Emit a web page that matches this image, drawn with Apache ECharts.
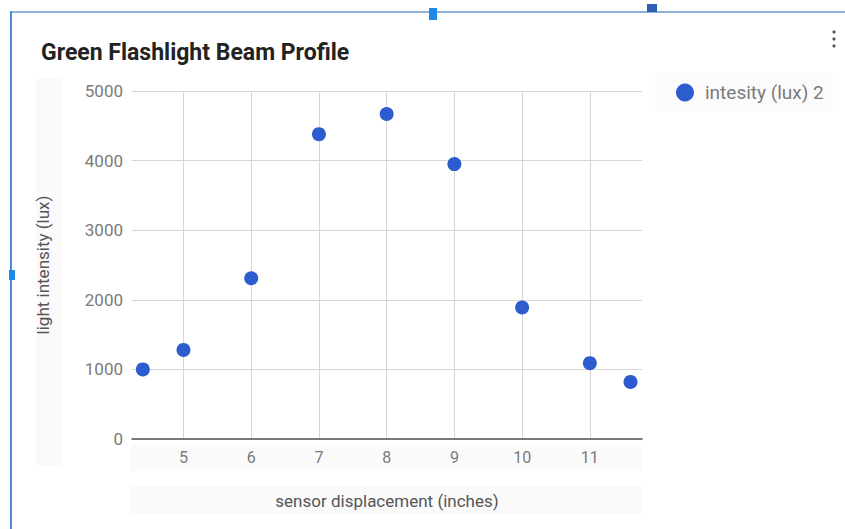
<!DOCTYPE html>
<html>
<head>
<meta charset="utf-8">
<script src="https://cdn.jsdelivr.net/npm/echarts@6/dist/echarts.min.js"></script>
<style>
  html, body { margin: 0; padding: 0; background: #fff; }
  #chart { width: 845px; height: 529px; }
</style>
</head>
<body>
<div id="chart"></div>
<script>
var displacement = [4.4, 5, 6, 7, 8, 9, 10, 11, 11.6];
var intensity = [1000, 1280, 2310, 4380, 4670, 3950, 1890, 1090, 820];
var xTicks = [5, 6, 7, 8, 9, 10, 11];
var seriesName = 'intesity (lux) 2';

var blue = '#2c5cce';
var grey = '#7a7a7a';
var gridColor = '#d6d6d6';

var chart = echarts.init(document.getElementById('chart'), null, { renderer: 'svg' });
chart.setOption({
  animation: false,
  title: {
    text: 'Green Flashlight Beam Profile',
    left: 36, top: 36,
    textStyle: { color: '#222', fontSize: 23, fontWeight: 'bold', fontFamily: 'Roboto' }
  },
  legend: {
    left: 671, top: 78,
    itemWidth: 18, itemHeight: 18, itemGap: 8,
    icon: 'circle',
    textStyle: { color: grey, fontSize: 19, fontFamily: 'Roboto', padding: [0, 0, 0, 6] },
    data: [seriesName]
  },
  graphic: [
    // panel borders and handles
    { type: 'rect', shape: { x: 10, y: 11, width: 835, height: 2 }, style: { fill: '#8fb3dc' }, silent: true },
    { type: 'rect', shape: { x: 10, y: 11, width: 2, height: 518 }, style: { fill: '#4a8ad8' }, silent: true },
    { type: 'rect', shape: { x: 429, y: 8, width: 8, height: 12 }, style: { fill: '#1e88e5' }, silent: true },
    { type: 'rect', shape: { x: 647, y: 4, width: 10, height: 8 }, style: { fill: '#2d5fb4' }, silent: true },
    { type: 'rect', shape: { x: 9, y: 270, width: 6, height: 10 }, style: { fill: '#1e88e5' }, silent: true },
    // menu dots
    { type: 'circle', shape: { cx: 834, cy: 32, r: 1.6 }, style: { fill: '#555' }, silent: true },
    { type: 'circle', shape: { cx: 834, cy: 39, r: 1.6 }, style: { fill: '#555' }, silent: true },
    { type: 'circle', shape: { cx: 834, cy: 46, r: 1.6 }, style: { fill: '#555' }, silent: true },
    // faint label backgrounds
    { type: 'rect', z: -10, shape: { x: 36, y: 78, width: 26, height: 388 }, style: { fill: '#fafafa' }, silent: true },
    { type: 'rect', z: -10, shape: { x: 131, y: 445, width: 510, height: 26 }, style: { fill: '#fafafa' }, silent: true },
    { type: 'rect', z: -10, shape: { x: 131, y: 486, width: 510, height: 28 }, style: { fill: '#fafafa' }, silent: true },
    { type: 'rect', z: -10, shape: { x: 655, y: 72, width: 178, height: 40 }, style: { fill: '#fbfbfb' }, silent: true }
  ],
  grid: { left: 132, right: 203, top: 91, bottom: 90 },
  xAxis: {
    type: 'value',
    min: 4.24, max: 11.77,
    name: 'sensor displacement (inches)',
    nameLocation: 'middle',
    nameGap: 53,
    nameTextStyle: { color: '#555', fontSize: 17, fontFamily: 'Roboto' },
    axisLine: { show: true, onZero: false, lineStyle: { color: '#555', width: 1.5 } },
    axisTick: { show: false, customValues: xTicks },
    axisLabel: { color: grey, fontSize: 16, margin: 10, fontFamily: 'Roboto', customValues: xTicks },
    splitLine: { show: true, lineStyle: { color: gridColor, width: 1 } }
  },
  yAxis: {
    type: 'value',
    min: 0, max: 5000, interval: 1000,
    name: 'light intensity (lux)',
    nameLocation: 'middle',
    nameGap: 81,
    nameTextStyle: { color: '#555', fontSize: 17, fontFamily: 'Roboto' },
    axisLine: { show: false },
    axisTick: { show: false },
    axisLabel: { color: grey, fontSize: 17, margin: 9, fontFamily: 'Roboto', formatter: function(v) { return String(v); } },
    splitLine: { show: true, lineStyle: { color: gridColor, width: 1 } }
  },
  series: [{
    name: seriesName,
    type: 'scatter',
    symbolSize: 14,
    itemStyle: { color: blue, opacity: 1 },
    data: displacement.map(function(x, i) { return [x, intensity[i]]; }),
    emphasis: { disabled: true }
  }]
});
</script>
</body>
</html>
